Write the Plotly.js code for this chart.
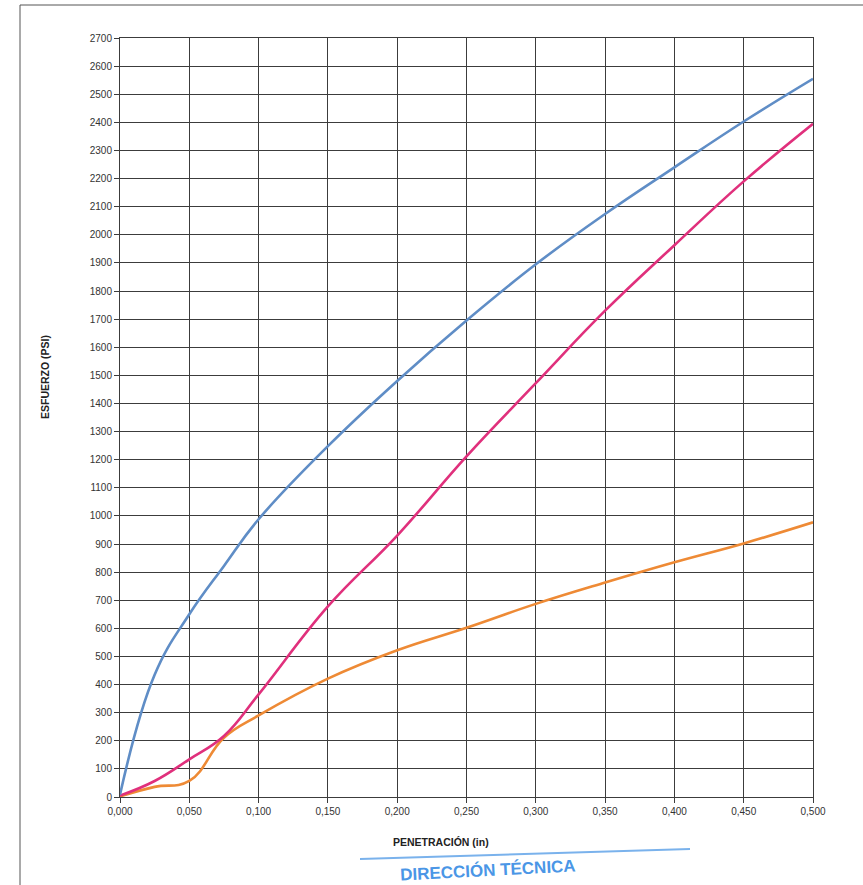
<!DOCTYPE html>
<html>
<head>
<meta charset="utf-8">
<script src="https://cdn.plot.ly/plotly-3.0.1.min.js"></script>
<style>html,body{margin:0;padding:0;background:#fff;}#chart{width:863px;height:885px;}</style>
</head>
<body>
<div id="chart"></div>
<script>
// Penetration (in)
var penetracion = [0, 0.025, 0.05, 0.075, 0.1, 0.15, 0.2, 0.25, 0.3, 0.35, 0.4, 0.45, 0.5];
// Stress (psi) for the three specimens
var serieAzul    = [8, 435, 650, 822, 988, 1248, 1480, 1695, 1895, 2074, 2240, 2403, 2555];
var serieMagenta = [5, 57, 134, 217, 365, 678, 930, 1212, 1472, 1730, 1963, 2190, 2395];
var serieNaranja = [2, 36, 57, 211, 290, 421, 522, 602, 687, 763, 835, 902, 977];
var xTicks = [0, 0.05, 0.1, 0.15, 0.2, 0.25, 0.3, 0.35, 0.4, 0.45, 0.5];

var W = 863, H = 885, L = 120, R = 50, T = 38, B = 88;
function px(x){ return (x - L) / (W - L - R); }
function py(y){ return (H - B - y) / (H - T - B); }

function serie(y, color){
  return {x: penetracion, y: y, type: 'scatter', mode: 'lines',
          line: {color: color, width: 2.6, shape: 'spline', smoothing: 1.2},
          hoverinfo: 'skip', showlegend: false};
}
var data = [
  serie(serieNaranja, '#EE8A35'),
  serie(serieMagenta, '#E0307C'),
  serie(serieAzul, '#5F8DC6')
];

var tickFont = {family: 'Liberation Sans, Arial, sans-serif', size: 10, color: '#333'};
var layout = {
  width: W, height: H,
  margin: {l: L, r: R, t: T, b: B},
  paper_bgcolor: '#fff', plot_bgcolor: '#fff',
  separators: ',.',
  showlegend: false,
  xaxis: {
    range: [0, 0.5], tickvals: xTicks, tickformat: '.3f',
    showgrid: true, gridcolor: '#3c3c3c', gridwidth: 1,
    showline: true, linecolor: '#3c3c3c', linewidth: 1, mirror: true,
    ticks: 'outside', ticklen: 5, tickcolor: '#3c3c3c',
    tickfont: tickFont, zeroline: false, fixedrange: true
  },
  yaxis: {
    range: [0, 2700], dtick: 100, tick0: 0, tickformat: 'd',
    showgrid: true, gridcolor: '#3c3c3c', gridwidth: 1,
    showline: true, linecolor: '#3c3c3c', linewidth: 1, mirror: true,
    ticks: 'outside', ticklen: 5, tickcolor: '#3c3c3c',
    tickfont: tickFont, zeroline: false, fixedrange: true
  },
  shapes: [
    {type: 'line', xref: 'paper', yref: 'paper', x0: px(20), x1: px(863), y0: py(5), y1: py(5),
     line: {color: '#555', width: 1}},
    {type: 'line', xref: 'paper', yref: 'paper', x0: px(20), x1: px(20), y0: py(5), y1: py(885),
     line: {color: '#555', width: 1}},
    {type: 'line', xref: 'paper', yref: 'paper', x0: px(360), x1: px(690), y0: py(859), y1: py(849),
     line: {color: '#7ab2ec', width: 2}}
  ],
  annotations: [
    {text: '<b>ESFUERZO (PSI)</b>', xref: 'paper', yref: 'paper', x: px(45), y: py(377),
     showarrow: false, textangle: -90, xanchor: 'center', yanchor: 'middle',
     font: {family: 'Liberation Sans, Arial, sans-serif', size: 10.5, color: '#222'}},
    {text: '<b>PENETRACIÓN (in)</b>', xref: 'paper', yref: 'paper', x: px(441), y: py(842),
     showarrow: false, xanchor: 'center', yanchor: 'middle',
     font: {family: 'Liberation Sans, Arial, sans-serif', size: 10.5, color: '#222'}},
    {text: '<b>DIRECCIÓN TÉCNICA</b>', xref: 'paper', yref: 'paper', x: px(488), y: py(870),
     showarrow: false, textangle: -3, xanchor: 'center', yanchor: 'middle',
     font: {family: 'Liberation Sans, Arial, sans-serif', size: 17, color: '#4a96e6'}}
  ]
};

Plotly.newPlot('chart', data, layout, {displayModeBar: false, staticPlot: true});
</script>
</body>
</html>
